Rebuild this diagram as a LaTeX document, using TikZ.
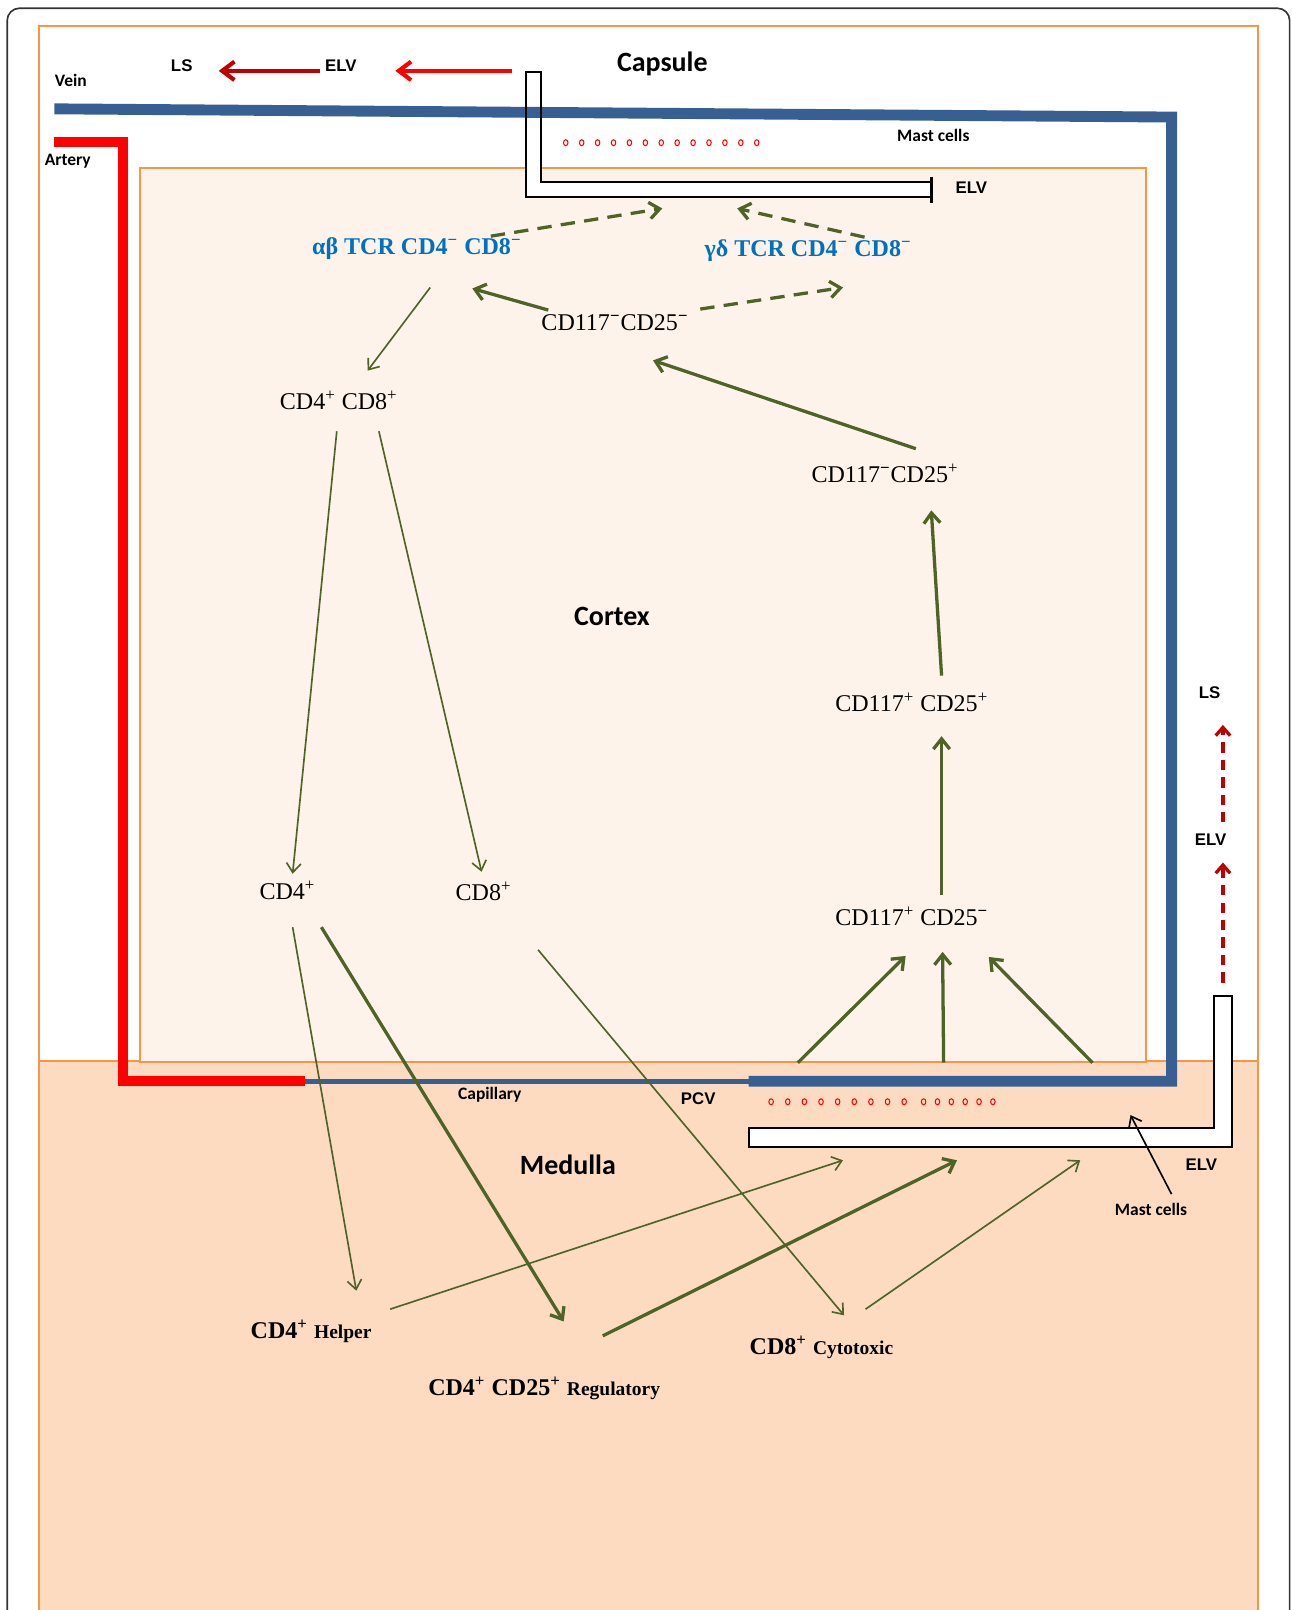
\documentclass[tikz,border=0pt]{standalone}
\usepackage{fontspec}
\setmainfont{Liberation Serif}
\newfontfamily\calibfont{Carlito}
\newfontfamily\arialfont{Liberation Sans}
\usetikzlibrary{arrows.meta, positioning}

\definecolor{veinblue}{RGB}{56,95,146}
\definecolor{artred}{RGB}{255,0,0}
\definecolor{lsred}{RGB}{192,0,0}
\definecolor{cellgreen}{RGB}{79,98,40}
\definecolor{zoneorange}{RGB}{247,150,70}
\definecolor{cortexfill}{RGB}{253,243,234}
\definecolor{medullafill}{RGB}{252,219,192}
\definecolor{tcrblue}{RGB}{0,112,192}

\newcommand{\splus}{\textsuperscript{+}}
\newcommand{\sminus}{\textsuperscript{\textbf{−}}}

\tikzset{
  zone/.style={draw=zoneorange, line width=1pt},
  cell/.style={font=\fontsize{11.7}{14}\selectfont, inner sep=1pt},
  tcr/.style={font=\fontsize{11.7}{14}\selectfont\bfseries, text=tcrblue, inner sep=1pt},
  mature/.style={font=\fontsize{11.7}{14}\selectfont\bfseries, inner sep=1pt},
  region/.style={font=\calibfont\bfseries\fontsize{13.6}{16}\selectfont},
  tag/.style={font=\calibfont\bfseries\fontsize{8.5}{10}\selectfont},
  vessel/.style={font=\arialfont\bfseries\fontsize{8.2}{10}\selectfont},
  thickarr/.style={cellgreen, line width=1.6pt, -{Straight Barb[length=5pt,width=8pt]}},
  thinarr/.style={cellgreen, line width=0.8pt, -{Straight Barb[length=4.5pt,width=7pt]}},
  dasharr/.style={thickarr, dash pattern=on 7pt off 4.5pt},
  redarr/.style={line width=2pt, -{Straight Barb[length=6pt,width=9pt]}},
  lsdash/.style={lsred, line width=1.6pt, dash pattern=on 5pt off 3.5pt, -{Straight Barb[length=4pt,width=7pt]}},
  lymph/.style={draw=black, fill=white, line width=1pt},
  mast/.style={draw=red, line width=0.5pt},
}

\begin{document}
\begin{tikzpicture}[x=0.5pt, y=-0.5pt]
  \useasboundingbox (0,0) rectangle (1258,1568);

  % frame and zones
  \draw[black!80, line width=0.8pt, rounded corners=6pt] (7,1590) -- (7,8) -- (1256,8) -- (1256,1590);
  \fill[medullafill] (38,1033) rectangle (1225,1590);
  \draw[zone] (38,1590) -- (38,25) -- (1225,25) -- (1225,1590);
  \draw[zone] (38,1033) -- (1225,1033);
  \node[zone, fill=cortexfill, minimum width=490pt, minimum height=435pt,
        inner sep=0pt, anchor=north west] (cortex) at (135,163) {};

  % lymphatic vessels
  \fill[white] (512,70) -- (527,70) -- (527,177) -- (907,177) -- (907,192) -- (512,192) -- cycle;
  \filldraw[lymph] (729,1099) -- (1182,1099) -- (1182,970) -- (1200,970) -- (1200,1117) -- (729,1117) -- cycle;

  % vein, artery, capillary
  \draw[artred, line width=4.8pt] (53,138) -- (120,138) -- (120,1053) -- (297,1053);
  \draw[veinblue, line width=2.4pt] (297,1053) -- (729,1053);
  \draw[veinblue, line width=5.3pt] (53,106) -- (1141,114) -- (1141,1053) -- (729,1053);

  \draw[line width=1pt] (907,177) -- (527,177) -- (527,70) -- (512,70) -- (512,192) -- (907,192);
  \draw[line width=1.6pt] (907,172) -- (907,198);

  % mast cells
  \foreach \i in {0,...,12}
    \draw[mast] (551+15.5*\i,139) ellipse[x radius=2.2, y radius=2.9];
  \foreach \i in {0,...,8}
    \draw[mast] (751+16.2*\i,1073) ellipse[x radius=2.2, y radius=2.9];
  \foreach \i in {0,...,5}
    \draw[mast] (899.5+13.5*\i,1073) ellipse[x radius=2.2, y radius=2.9];

  % labels
  \node[tag] (vein) at (69,78) {Vein};
  \node[tag] (artery) at (66,157) {Artery};
  \node[vessel] (ls1) at (177,64) {LS};
  \node[vessel] (elv1) at (332,64) {ELV};
  \node[region] (capsule) at (645,62) {Capsule};
  \node[tag] (mast1) at (909,132) {Mast cells};
  \node[vessel] (elv2) at (946,183) {ELV};
  \node[region] (cortexlbl) at (596,600) {Cortex};
  \node[region] (medulla) at (553,1134) {Medulla};
  \node[tag] (capillary) at (477,1066) {Capillary};
  \node[vessel] (pcv) at (680,1070) {PCV};
  \node[vessel] (elv3) at (1170,1134) {ELV};
  \node[tag] (mast2) at (1121,1178) {Mast cells};
  \node[vessel] (elv4) at (1179,818) {ELV};
  \node[vessel] (ls2) at (1178,675) {LS};

  % cells
  \node[tcr] (ab) at (406,242) {αβ TCR CD4\sminus{} CD8\sminus};
  \node[tcr] (gd) at (787,244) {γδ TCR CD4\sminus{} CD8\sminus};
  \node[cell] (dn) at (599,314) {CD117\sminus CD25\sminus};
  \node[cell] (dp) at (330,390) {CD4\splus{} CD8\splus};
  \node[cell] (n3) at (862,461) {CD117\sminus CD25\splus};
  \node[cell] (n2) at (888,684) {CD117\splus{} CD25\splus};
  \node[cell] (n1) at (888,892) {CD117\splus{} CD25\sminus};
  \node[cell] (cd4) at (280,867) {CD4\splus};
  \node[cell] (cd8) at (471,868) {CD8\splus};
  \node[mature] (helper) at (303,1297) {CD4\splus{} {\fontsize{9.5}{11}\selectfont Helper}};
  \node[mature] (treg) at (530,1352) {CD4\splus{} CD25\splus{} {\fontsize{9.5}{11}\selectfont Regulatory}};
  \node[mature] (ctl) at (800,1312) {CD8\splus{} {\fontsize{9.5}{11}\selectfont Cytotoxic}};

  \coordinate (capout) at (499,69);
  \coordinate (cap1) at (645,203);
  \coordinate (cap2) at (718,203);
  \coordinate (elvb1) at (821,1130);
  \coordinate (elvb2) at (932,1130);
  \coordinate (elvb3) at (1052,1130);
  \coordinate (mastpt) at (1101,1086);

  % lymph flow
  \draw[redarr, artred] (capout) -- ([shift={(53,5)}]elv1.center);
  \draw[redarr, lsred] ([shift={(-20,5)}]elv1.center) -- ([shift={(36,5)}]ls1.center);
  \draw[lsdash] (1191,957) -- ([shift={(12,22)}]elv4.center);
  \draw[lsdash] ([shift={(12,-17)}]elv4.center) -- ([shift={(13,31)}]ls2.center);
  \draw[black, line width=0.8pt, -{Straight Barb[length=4.5pt,width=7pt]}]
    ([shift={(20,-15)}]mast2.center) -- (mastpt);

  % development
  \path[dasharr]
    ([shift={(83,-13)}]dn.center) edge ([shift={(34,36)}]gd.center)
    ([shift={(72,-12)}]ab.center) edge (cap1)
    ([shift={(55,-13)}]gd.center) edge (cap2);
  \path[thickarr]
    ([shift={(-65,-12)}]dn.center) edge ([shift={(54,39)}]ab.center)
    ([shift={(30,-24)}]n3.center) edge ([shift={(37,37)}]dn.center)
    ([shift={(29,-26)}]n2.center) edge ([shift={(45,36)}]n3.center)
    ([shift={(29,-20)}]n1.center) edge ([shift={(29,33)}]n2.center)
    ([shift={(151,0)}]cortex.south) edge ([shift={(-6,39)}]n1.center)
    ([shift={(293,0)}]cortex.south) edge ([shift={(30,35)}]n1.center)
    ([shift={(438,0)}]cortex.south) edge ([shift={(75,40)}]n1.center)
    ([shift={(33,36)}]cd4.center) edge ([shift={(19,-65)}]treg.center)
    ([shift={(57,-51)}]treg.center) edge (elvb2);
  \path[thinarr]
    ([shift={(13,38)}]ab.center) edge ([shift={(28,-29)}]dp.center)
    ([shift={(-2,30)}]dp.center) edge ([shift={(5,-16)}]cd4.center)
    ([shift={(39,30)}]dp.center) edge ([shift={(-2,-19)}]cd8.center)
    ([shift={(5,36)}]cd4.center) edge ([shift={(44,-40)}]helper.center)
    ([shift={(53,57)}]cd8.center) edge ([shift={(22,-31)}]ctl.center)
    ([shift={(77,-22)}]helper.center) edge (elvb1)
    ([shift={(43,-37)}]ctl.center) edge (elvb3);
\end{tikzpicture}
\end{document}
